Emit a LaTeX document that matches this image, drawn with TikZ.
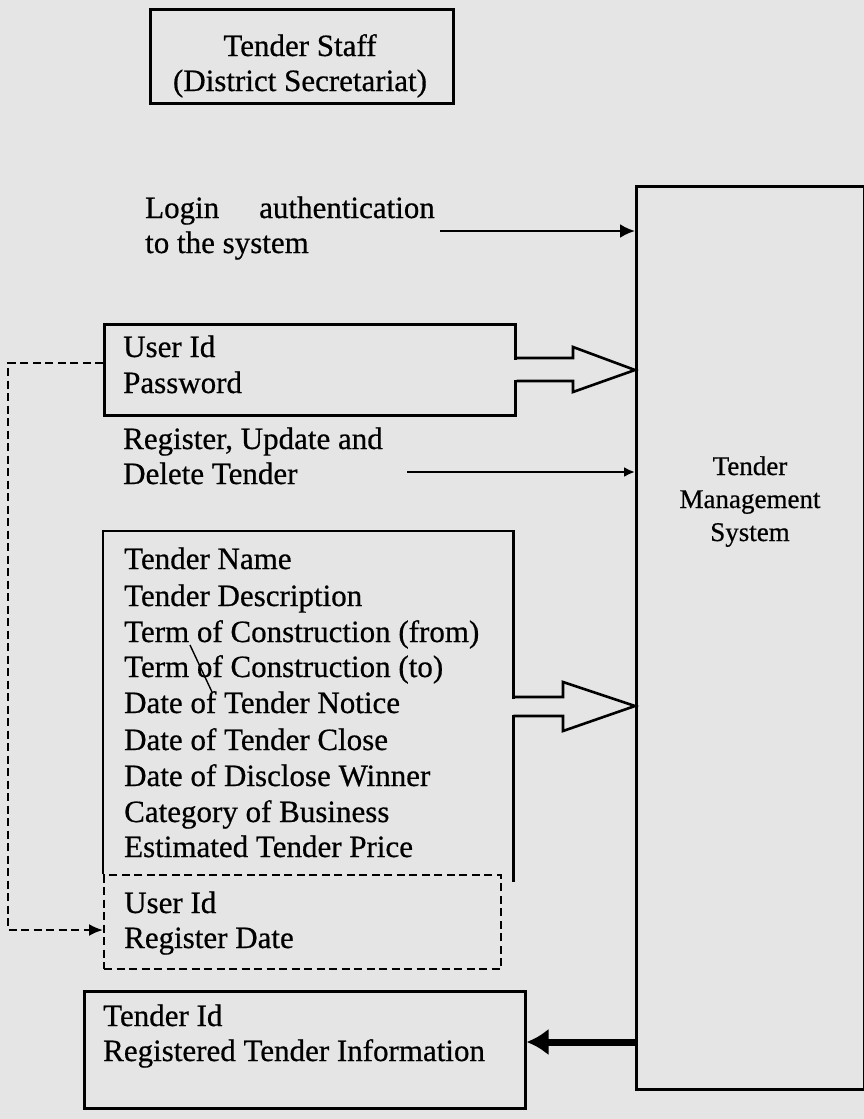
\documentclass[tikz,border=0pt]{standalone}
\usepackage{fontspec}
\setmainfont{Liberation Serif}
\newfontfamily\scanfont{Liberation Serif}[FakeBold=0.6]
\usetikzlibrary{arrows.meta,calc}
\definecolor{bg}{RGB}{229,229,229}
\begin{document}
\begin{tikzpicture}[x=1pt,y=-1pt,
  box/.style={draw, line width=2.6pt, fill=bg, rectangle, inner sep=0pt, anchor=north west},
  txt/.style={anchor=base west, inner sep=0pt, font=\scanfont\fontsize{31}{36}\selectfont},
  ctxt/.style={anchor=base, inner sep=0pt, font=\scanfont\fontsize{31}{36}\selectfont},
  tmstxt/.style={anchor=base, inner sep=0pt, font=\scanfont\fontsize{27}{32}\selectfont},
  thinarrow/.style={line width=2.4pt, -{Latex[length=15pt,width=14pt]}},
  dashline/.style={line width=2.2pt, dash pattern=on 8pt off 4.5pt},
  fatarrow/.style={line width=2.6pt, line join=miter}
]
\fill[bg] (0,0) rectangle (864,1119);
\useasboundingbox (0,0) rectangle (864,1119);

% boxes
\node[box, minimum width=303pt, minimum height=94pt] (staff) at (149,8) {};
\node[box, minimum width=228pt, minimum height=903pt] (tms) at (635,185) {};
\node[box, minimum width=411pt, minimum height=91pt] (uid) at (103,323) {};
\node[anchor=north west, inner sep=0pt, minimum width=410pt, minimum height=343pt, fill=bg] (list) at (103,531) {};
\draw[line width=2.6pt] (list.south west) -- (list.north west) -- (list.north east) -- ([yshift=-8pt]list.south east);
\node[anchor=north west, inner sep=0pt, minimum width=397pt, minimum height=94pt, draw, dashline] (reg) at (103,874) {};
\node[box, minimum width=441pt, minimum height=117pt] (out) at (83,990) {};

% texts
\node[ctxt] (staff1) at (300,56) {Tender Staff};
\node[ctxt] (staff2) at (300,91) {(District Secretariat)};

\node[txt] (login) at (145,218) {Login};
\node[txt] (auth) at (259,218) {authentication};
\node[txt] (tosys) at (145,253) {to the system};

\node[txt] (uid1) at (123,357) {User Id};
\node[txt] (uid2) at (123,393) {Password};

\node[txt] (rud1) at (123,449) {Register, Update and};
\node[txt] (rud2) at (123,484) {Delete Tender};

\node[txt] (l1) at (124,569) {Tender Name};
\node[txt] (l2) at (124,606) {Tender Description};
\node[txt] (l3) at (124,642) {Term of Construction (from)};
\node[txt] (l4) at (124,677) {Term of Construction (to)};
\node[txt] (l5) at (124,713) {Date of Tender Notice};
\node[txt] (l6) at (124,750) {Date of Tender Close};
\node[txt] (l7) at (124,786) {Date of Disclose Winner};
\node[txt] (l8) at (124,822) {Category of Business};
\node[txt] (l9) at (124,857) {Estimated Tender Price};

\node[txt] (r1) at (124,913) {User Id};
\node[txt] (r2) at (124,948) {Register Date};

\node[txt] (o1) at (103,1026) {Tender Id};
\node[txt] (o2) at (103,1061) {Registered Tender Information};

\node[tmstxt] (t1) at (750,475) {Tender};
\node[tmstxt] (t2) at (750,508) {Management};
\node[tmstxt] (t3) at (750,541) {System};

% thin arrows
\coordinate (loginstart) at (440,231);
\draw[thinarrow] (loginstart) -- (loginstart -| tms.west);
\coordinate (regstart) at (407,472);
\draw[line width=2.4pt, -{Latex[length=11pt,width=10pt]}] (regstart) -- (regstart -| tms.west);

% fat arrow 1
\fill[bg] (510,359.5) rectangle (575,379.5);
\draw[fatarrow] (uid.east |- 0,358) -- (573,358) -- (573,347) -- (tms.west |- 0,370) -- (573,392) -- (573,381) -- (uid.east |- 0,381);

% fat arrow 2
\fill[bg] (509,698.5) rectangle (565,714.5);
\draw[fatarrow] (list.east |- 0,697) -- (563,697) -- (563,682) -- (tms.west |- 0,706) -- (563,731) -- (563,716) -- (list.east |- 0,716);

% output arrow
\draw[line width=7pt, -{Latex[length=22pt,width=27pt]}] (tms.west |- 0,1042) -- (out.east |- 0,1042);

% dashed connector
\coordinate (dl1) at (8,363);
\coordinate (dl2) at (8,930);
\draw[dashline, -{Latex[length=14pt,width=12pt]}] (uid.west |- dl1) -- (dl1) -- (dl2) -- (reg.west |- dl2);

% stray pen mark
\draw[line width=1.4pt] (190,645) -- (212,692);
\end{tikzpicture}
\end{document}
